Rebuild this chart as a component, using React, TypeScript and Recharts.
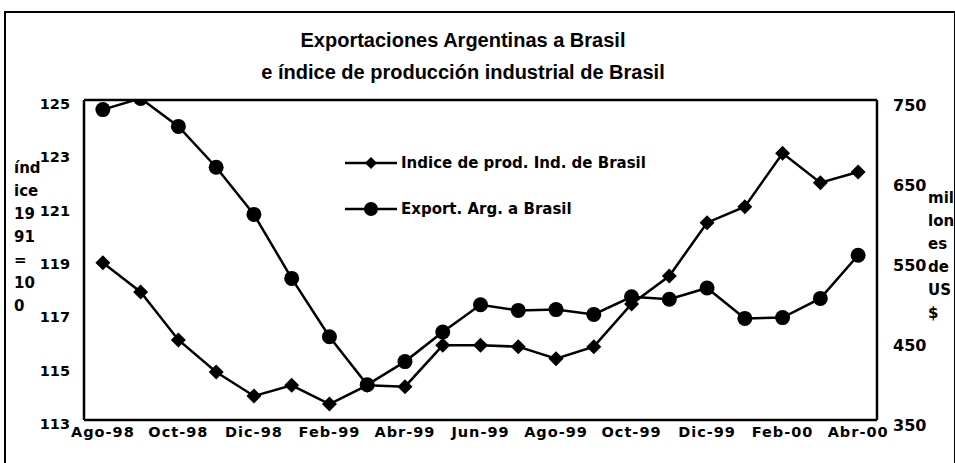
import { Legend, Line, LineChart, XAxis, YAxis } from "recharts";

const months = [
  "Ago-98", "Sep-98", "Oct-98", "Nov-98", "Dic-98", "Ene-99", "Feb-99",
  "Mar-99", "Abr-99", "May-99", "Jun-99", "Jul-99", "Ago-99", "Sep-99",
  "Oct-99", "Nov-99", "Dic-99", "Ene-00", "Feb-00", "Mar-00", "Abr-00",
];
// índice de producción industrial de Brasil (1991 = 100)
const indice = [
  118.9, 117.8, 116.0, 114.8, 113.9, 114.3, 113.6, 114.3, 114.25, 115.8,
  115.8, 115.75, 115.3, 115.75, 117.35, 118.4, 120.4, 121.0, 123.0, 121.9, 122.3,
];
// exportaciones argentinas a Brasil, millones de US$
const exportaciones = [
  738, 752, 717, 666, 607, 527, 454, 394, 423, 460, 494, 487, 488, 482, 504,
  501, 515, 477, 478, 502, 556,
];
const leftTicks = [113, 115, 117, 119, 121, 123, 125];
const rightTicks = [350, 450, 550, 650, 750];
const leftLabel = ["índ", "ice", "19", "91", "=", "10", "0"];
const rightLabel = ["mil", "lon", "es", "de", "US", "$"];

const data = months.map((mes, i) => ({
  mes,
  indice: indice[i],
  exportaciones: exportaciones[i],
}));

const FONT = "'DejaVu Sans', sans-serif";
const tickText = { fontFamily: FONT, fontWeight: 700, fontSize: 14.5, fill: "#000" };

const Diamond = ({ cx, cy, r = 7.5 }: { cx: number; cy: number; r?: number }) => (
  <path d={`M${cx},${cy - r}L${cx + r},${cy}L${cx},${cy + r}L${cx - r},${cy}Z`} fill="#000" />
);

const LegendBox = ({ payload }: any) => {
  const items = [...(payload || [])].sort((a: any) => (a.dataKey === "indice" ? -1 : 1));
  return (
    <div style={{ fontFamily: FONT, fontSize: 15, fontWeight: 700 }}>
      {items.map((p: any) => (
        <div key={p.value} style={{ display: "flex", alignItems: "center", height: 46 }}>
          <svg width={54} height={20}>
            <line x1={0} y1={10} x2={52} y2={10} stroke="#000" strokeWidth={2.5} />
            {p.dataKey === "indice" ? (
              <Diamond cx={26} cy={10} r={6} />
            ) : (
              <circle cx={26} cy={10} r={7} fill="#000" />
            )}
          </svg>
          <span style={{ marginLeft: 2 }}>{p.value}</span>
        </div>
      ))}
    </div>
  );
};

export default function App() {
  return (
    <div style={{ position: "absolute", left: 0, top: 0, width: 955, height: 463, background: "#fff", overflow: "hidden" }}>
      <div
        style={{
          position: "absolute", left: 4, top: 11, width: 952, height: 470,
          border: "2px solid #000", boxSizing: "border-box",
        }}
      />
      <div
        style={{
          position: "absolute", left: 0, top: 24, width: 926, textAlign: "center",
          fontFamily: "'Liberation Sans', Arial, sans-serif", fontWeight: 700, fontSize: 20, lineHeight: "32px",
        }}
      >
        <div>Exportaciones Argentinas a Brasil</div>
        <div>e índice de producción industrial de Brasil</div>
      </div>
      <div style={{ position: "absolute", left: 14, top: 157, fontFamily: FONT, fontWeight: 700, fontSize: 15, lineHeight: "23px" }}>
        {leftLabel.map((t) => <div key={t}>{t}</div>)}
      </div>
      <div style={{ position: "absolute", left: 928, top: 187, fontFamily: FONT, fontWeight: 700, fontSize: 15, lineHeight: "23px" }}>
        {rightLabel.map((t) => <div key={t}>{t}</div>)}
      </div>
      <LineChart width={955} height={463} data={data} margin={{ top: 98, right: 18, bottom: 13, left: 24 }} style={{ position: "absolute", left: 0, top: 0 }}>
        <XAxis
          dataKey="mes"
          scale="band"
          interval={1}
          height={30}
          tickLine={false}
          axisLine={{ stroke: "#000", strokeWidth: 2.5 }}
          tick={({ x, y, payload }: any) => (
            <text x={x} y={y} dy={9} textAnchor="middle" letterSpacing={1} {...tickText}>{payload.value}</text>
          )}
        />
        <XAxis xAxisId="top" dataKey="mes" scale="band" orientation="top" height={2} tick={false} tickLine={false} axisLine={{ stroke: "#000", strokeWidth: 2.5 }} />
        <YAxis
          yAxisId="left"
          width={60}
          domain={[113, 125]}
          ticks={leftTicks}
          tickLine={false}
          tickMargin={8}
          axisLine={{ stroke: "#000", strokeWidth: 2.5 }}
          tick={({ x, y, payload }: any) => (
            <text x={x} y={y} dy={9} textAnchor="end" {...tickText}>{payload.value}</text>
          )}
        />
        <YAxis
          yAxisId="right"
          orientation="right"
          width={60}
          domain={[350, 750]}
          ticks={rightTicks}
          allowDataOverflow
          tickLine={false}
          tickMargin={10}
          axisLine={{ stroke: "#000", strokeWidth: 2.5 }}
          tick={({ x, y, payload }: any) => (
            <text x={x} y={y} dy={11} textAnchor="start" {...tickText} fontSize={16}>{payload.value}</text>
          )}
        />
        <Legend
          layout="vertical"
          align="center"
          verticalAlign="middle"
          content={<LegendBox />}
          wrapperStyle={{ position: "absolute", left: 345, top: 140, width: 340 }}
        />
        <Line
          yAxisId="left"
          dataKey="indice"
          name="Indice de prod. Ind. de Brasil"
          stroke="#000"
          strokeWidth={2.5}
          dot={(p: any) => <Diamond key={p.index} cx={p.cx} cy={p.cy} />}
          isAnimationActive={false}
        />
        <Line
          yAxisId="right"
          dataKey="exportaciones"
          name="Export. Arg. a Brasil"
          stroke="#000"
          strokeWidth={2.5}
          dot={{ r: 7.5, fill: "#000", stroke: "none" }}
          isAnimationActive={false}
        />
      </LineChart>
    </div>
  );
}
